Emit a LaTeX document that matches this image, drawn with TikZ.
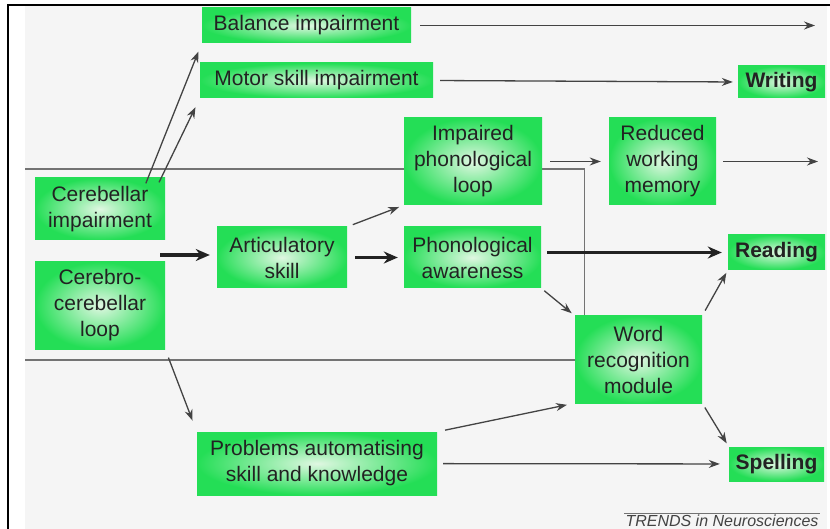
\documentclass[tikz,border=0pt]{standalone}
\usepackage{fontspec}
\setmainfont{Liberation Sans}
\usetikzlibrary{arrows.meta,positioning}
\pgfdeclarelayer{edgelayer}
\pgfsetlayers{edgelayer,main}
\definecolor{boxgreen}{RGB}{36,222,86}
\definecolor{boxpale}{RGB}{224,247,226}
\definecolor{panel}{RGB}{245,245,245}
\definecolor{ink}{RGB}{34,34,34}
\newcommand{\boxfont}{\fontsize{21}{26}\selectfont}
\tikzset{font=\boxfont}
\tikzstyle{box}=[rectangle,inner color=boxpale,outer color=boxgreen,align=center,text=ink,inner sep=2pt]
\tikzstyle{arr}=[->,>={Stealth[length=11pt,width=8pt]},line width=1.3pt,color=ink!85]
\tikzstyle{fatarr}=[->,>={Stealth[length=14pt,width=12pt]},line width=3.4pt,color=ink]
\tikzstyle{divider}=[line width=1.6pt,draw=black!55]

\begin{document}
\begin{tikzpicture}[x=1pt,y=-1pt]
\useasboundingbox (0,0) rectangle (830,529);
\node[box,minimum width=209,minimum height=35] (bal) at (306.5,25.5) {Balance impairment};
\node[box,minimum width=233,minimum height=35] (mot) at (316.5,80.5) {Motor skill impairment};
\node[box,minimum width=87,minimum height=32,font=\boxfont\bfseries] (wri) at (781.5,82) {Writing};
\node[box,minimum width=138,minimum height=87] (imp) at (473,161.5) {Impaired\\phonological\\loop};
\node[box,minimum width=107,minimum height=87] (red) at (662.5,161.5) {Reduced\\working\\memory};
\node[box,minimum width=130,minimum height=62] (cer) at (100,209) {Cerebellar\\impairment};
\node[box,minimum width=130,minimum height=61] (art) at (282,257.5) {Articulatory\\skill};
\node[box,minimum width=137,minimum height=61] (pho) at (472.5,257.5) {Phonological\\awareness};
\node[box,minimum width=97,minimum height=35,font=\boxfont\bfseries] (rea) at (776.5,252.5) {Reading};
\node[box,minimum width=130,minimum height=87] (cc) at (100,305.5) {Cerebro-\\cerebellar\\loop};
\node[box,minimum width=127,minimum height=87] (wrd) at (638.5,359.5) {Word\\recognition\\module};
\node[box,minimum width=240,minimum height=63] (pro) at (317,463.5) {Problems automatising\\skill and knowledge};
\node[box,minimum width=95,minimum height=34,font=\boxfont\bfseries] (spe) at (776.5,464) {Spelling};
\node[anchor=base,inner sep=1pt,text=ink!85,font=\fontsize{16}{18}\selectfont\itshape] (credit) at (722,526.5) {TRENDS in Neurosciences};
\coordinate (balout) at (815,25.5);
\coordinate (redout) at (818,161.5);
\coordinate (src) at (160,255);
\coordinate (l1) at (25,169);
\coordinate (l2) at (25,360);
% frame and dividers
\draw[line width=2pt] (8,529) -- (8,5) -- (830,5);
\draw[divider,line width=1pt] (credit.north west) -- (credit.north east);
\begin{pgfonlayer}{edgelayer}
\fill[panel] (25,6) rectangle (827,529);
\draw[divider] (l1) -| (wrd.141);
\draw[divider] (l2) -- (l2 -| wrd.west);
\end{pgfonlayer}
\path[arr]
(bal) edge[shorten <=9pt] (balout)
(mot.east) edge[shorten <=7pt,shorten >=5pt] (wri.west)
(imp) edge[shorten <=8pt,shorten >=8pt] (red)
(red) edge[shorten <=7pt] (redout)
(cer.33) edge[shorten <=-6pt,shorten >=9pt] (bal.south west)
(cer.27) edge[shorten <=-5pt,shorten >=10pt] (mot.south west)
(art.north east) edge[shorten <=6pt,shorten >=5pt] (imp.south west)
(pho.south east) edge[shorten <=4pt,shorten >=4pt] (wrd.north west)
(wrd.north east) edge[shorten <=6pt,shorten >=3pt] (rea.south west)
(wrd.south east) edge[shorten <=5pt,shorten >=4pt] (spe.north west)
(pro.north east) edge[shorten <=8pt,shorten >=8pt] (wrd.south west)
(pro) edge[shorten <=6pt,shorten >=9pt] (spe)
(cc.south east) edge[shorten <=9pt,shorten >=12pt] (pro.north west);
\path[fatarr]
(src) edge[shorten >=7pt] (src -| art.west)
(art) edge[shorten <=8pt,shorten >=6pt] (pho)
(pho.east |- rea.west) edge[shorten <=6pt,shorten >=6pt] (rea.west);
\end{tikzpicture}
\end{document}
